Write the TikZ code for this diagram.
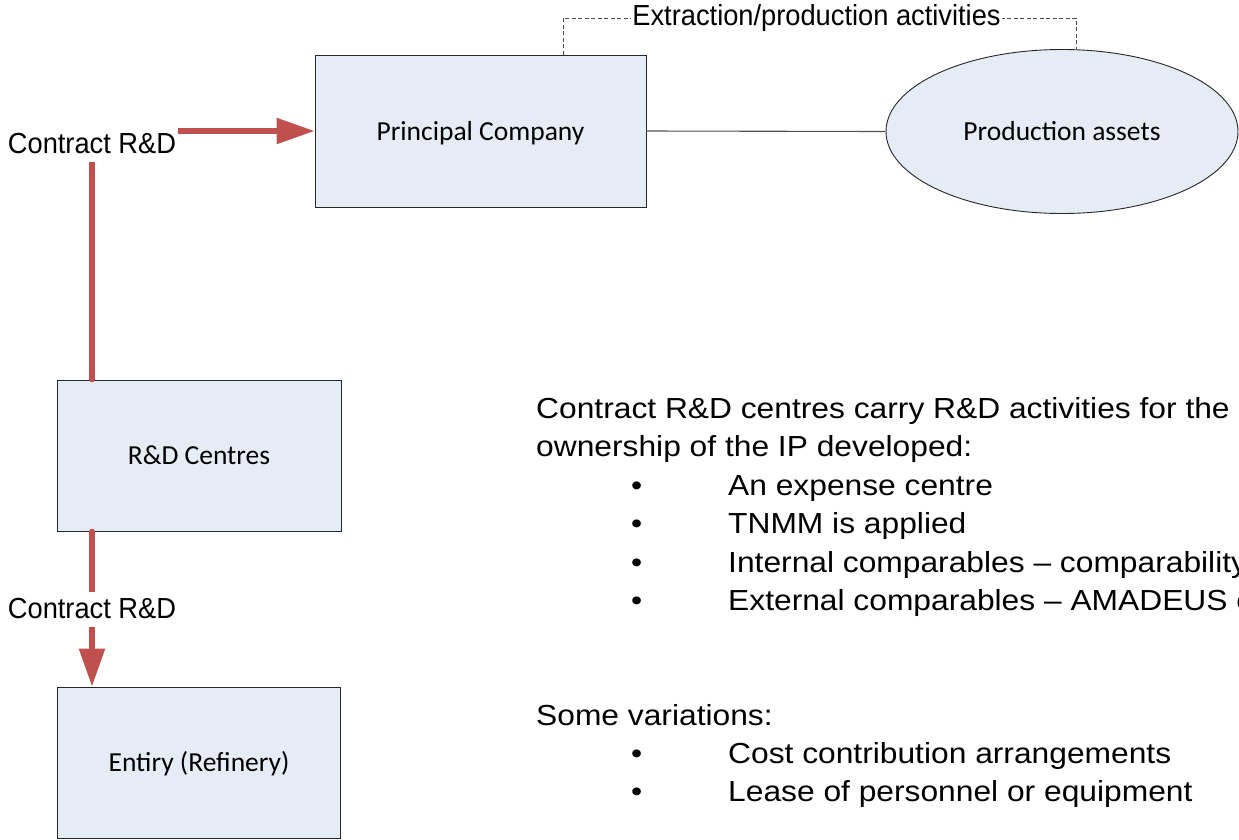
\documentclass[tikz,border=0pt]{standalone}
\usepackage{fontspec}
\setmainfont{Liberation Sans}
\newfontfamily\lblfont[FakeStretch=0.94]{Liberation Sans}
\newfontfamily\bodyfont[FakeStretch=1.095]{Liberation Sans}
\newfontfamily\boxfont{Carlito}
\usetikzlibrary{arrows.meta,shapes.geometric}
\definecolor{boxfill}{HTML}{E6ECF6}
\definecolor{rdred}{HTML}{C0504D}
\definecolor{edge}{HTML}{262626}
\tikzset{
  x=1pt, y=-1pt,
  boxnode/.style={draw=edge, line width=0.9pt, fill=boxfill, inner sep=0pt,
    text height=18pt, text depth=0pt,
    font=\boxfont\fontsize{27.5}{33}\selectfont},
  lbl/.style={font=\lblfont\fontsize{29}{34}\selectfont, inner sep=0pt},
  redlbl/.style={lbl, fill=white, anchor=base, text height=26pt, text depth=9pt, inner xsep=2pt},
  bodytext/.style={font=\bodyfont\fontsize{29}{34}\selectfont, inner sep=0pt, anchor=base west},
  redconn/.style={draw=rdred, line width=5.5pt, line cap=round, line join=round},
  redtip/.style={-{Triangle[length=38pt,width=25pt]}},
  thinconn/.style={draw=edge!80, line width=1.1pt},
  bracket/.style={draw=gray!60!black, line width=0.9pt, dash pattern=on 4pt off 2.5pt}
}
\begin{document}
\begin{tikzpicture}
\useasboundingbox (0,0) rectangle (1239,839);
\clip (0,0) rectangle (1239,839);

% nodes
\node[boxnode, minimum width=331pt, minimum height=152pt] (pc) at (480.5,131) {Principal Company};
\node[boxnode, ellipse, minimum width=352pt, minimum height=164pt] (pa) at (1062,131.5) {Production assets};
\node[boxnode, minimum width=284pt, minimum height=151pt] (rd) at (199,455.5) {R\&D Centres};
\node[boxnode, minimum width=283pt, minimum height=151pt] (en) at (199,762.5) {Entiry (Refinery)};

% helper coordinates
\coordinate (c1) at (92,131);
\coordinate (b1) at (563,18);
\coordinate (b2) at (1076,18);

% thin connector
\draw[thinconn] (pc.east) -- (pa.west);

% dashed bracket
\draw[bracket] (b1 |- pc.north) -- (b1) -- (b2) -- (b2 |- pa.north);
\node[lbl, fill=white, inner xsep=1.5pt, inner ysep=2pt] (ext) at (816.5,18) {Extraction/production activities};

% red connectors
\draw[redconn, redtip] (rd.north -| c1) -- (c1) -- (pc.west);
\node[redlbl] (l1) at (92,153) {Contract R\&D};
\draw[redconn, redtip] (rd.south -| c1) -- (en.north -| c1);
\node[redlbl] (l2) at (92,618) {Contract R\&D};

% body text
\node[bodytext] (t1) at (536,418) {Contract R\&D centres carry R\&D activities for the};
\node[bodytext] (t2) at (536,456.5) {ownership of the IP developed:};
\node[bodytext] (b1n) at (631,495) {\textbullet};
\node[bodytext] (i1) at (728,495) {An expense centre};
\node[bodytext] (b2n) at (631,533.5) {\textbullet};
\node[bodytext] (i2) at (728,533.5) {TNMM is applied};
\node[bodytext] (b3n) at (631,572) {\textbullet};
\node[bodytext] (i3) at (728,572) {Internal comparables \textendash{} comparability};
\node[bodytext] (b4n) at (631,610.5) {\textbullet};
\node[bodytext] (i4) at (728,610.5) {External comparables \textendash{} AMADEUS c};
\node[bodytext] (t3) at (536,725) {Some variations:};
\node[bodytext] (v1b) at (631,763) {\textbullet};
\node[bodytext] (v1) at (728,763) {Cost contribution arrangements};
\node[bodytext] (v2b) at (631,801.5) {\textbullet};
\node[bodytext] (v2) at (728,801.5) {Lease of personnel or equipment};
\end{tikzpicture}
\end{document}
